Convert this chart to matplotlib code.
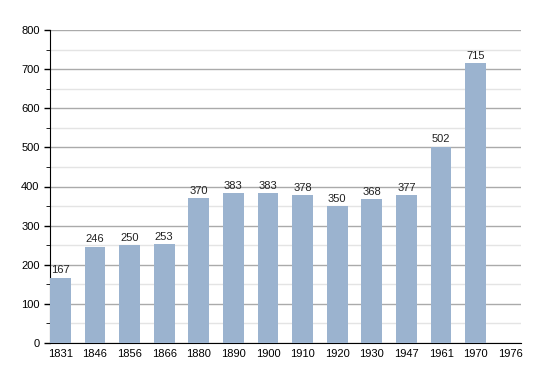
import matplotlib.pyplot as plt
import numpy as np

plt.rcParams['font.family'] = ['Liberation Sans', 'DejaVu Sans']

years = ['1831', '1846', '1856', '1866', '1880', '1890', '1900', '1910',
         '1920', '1930', '1947', '1961', '1970', '1976']
population = [167, 246, 250, 253, 370, 383, 383, 378, 350, 368, 377, 502, 715]

fig = plt.figure(figsize=(5.5, 3.73), dpi=100)
ax = fig.add_axes([50 / 550, 30 / 373, 471 / 550, 313 / 373])

x = np.arange(len(years))
bars = ax.bar(x[:len(population)], population, width=0.6, color='#9bb3cf', zorder=3)
for xi, v in zip(x, population):
    ax.text(xi, v + 6, str(v), ha='center', va='bottom', fontsize=8, color='#222222', zorder=4)

ax.set_xlim(-0.3, 13.31)
ax.set_ylim(0, 800)
ax.set_xticks(x)
ax.set_xticklabels(years, fontsize=8)
ax.set_yticks(np.arange(0, 801, 100))
ax.set_yticks(np.arange(50, 800, 100), minor=True)
ax.tick_params(axis='y', labelsize=8, length=4, width=1)
ax.tick_params(axis='y', which='minor', length=3)
ax.tick_params(axis='x', length=0, pad=4)

ax.grid(axis='y', which='major', color='#aaaaaa', lw=1, zorder=0)
ax.grid(axis='y', which='minor', color='#e4e4e4', lw=1, zorder=0)
for s in ['top', 'right']:
    ax.spines[s].set_visible(False)
ax.spines['left'].set_color('black')
ax.spines['bottom'].set_color('black')

fig.savefig('out.png', dpi=100)
